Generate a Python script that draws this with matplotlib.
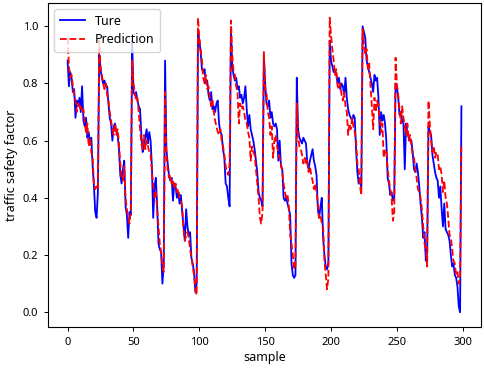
import matplotlib
matplotlib.use("Agg")
import matplotlib.pyplot as plt

plt.rcParams['font.family'] = ['Noto Sans', 'DejaVu Sans']

# true values, one row per sawtooth cycle (first cycle is 24 samples, last is 1)
true_vals = [
    0.88, 0.79, 0.84, 0.82, 0.77, 0.78, 0.68, 0.74, 0.72, 0.75, 0.70, 0.79, 0.67, 0.65, 0.68, 0.61, 0.63, 0.59, 0.61, 0.51, 0.44, 0.35, 0.33, 0.42,
    0.90, 0.85, 0.82, 0.80, 0.81, 0.79, 0.79, 0.73, 0.68, 0.66, 0.60, 0.65, 0.66, 0.63, 0.62, 0.57, 0.48, 0.45, 0.50, 0.53, 0.37, 0.34, 0.26, 0.35, 0.34,
    0.95, 0.77, 0.76, 0.77, 0.74, 0.72, 0.71, 0.62, 0.56, 0.58, 0.61, 0.64, 0.59, 0.63, 0.60, 0.51, 0.33, 0.44, 0.47, 0.37, 0.24, 0.22, 0.21, 0.10, 0.17,
    0.88, 0.57, 0.52, 0.48, 0.46, 0.47, 0.39, 0.45, 0.44, 0.40, 0.42, 0.38, 0.41, 0.35, 0.30, 0.25, 0.36, 0.30, 0.27, 0.28, 0.19, 0.17, 0.14, 0.07, 0.10,
    0.98, 0.95, 0.91, 0.85, 0.84, 0.85, 0.80, 0.81, 0.76, 0.74, 0.77, 0.71, 0.72, 0.70, 0.73, 0.74, 0.66, 0.63, 0.62, 0.57, 0.54, 0.45, 0.44, 0.40, 0.37,
    0.99, 0.86, 0.83, 0.81, 0.82, 0.78, 0.79, 0.75, 0.76, 0.73, 0.75, 0.79, 0.71, 0.65, 0.69, 0.64, 0.62, 0.60, 0.57, 0.53, 0.49, 0.42, 0.40, 0.39, 0.37,
    0.90, 0.80, 0.73, 0.72, 0.74, 0.68, 0.70, 0.66, 0.65, 0.66, 0.64, 0.53, 0.60, 0.51, 0.50, 0.40, 0.39, 0.40, 0.38, 0.36, 0.34, 0.17, 0.13, 0.12, 0.13,
    0.82, 0.64, 0.61, 0.60, 0.59, 0.61, 0.60, 0.59, 0.52, 0.50, 0.53, 0.55, 0.57, 0.53, 0.51, 0.48, 0.36, 0.33, 0.37, 0.40, 0.26, 0.20, 0.16, 0.15, 0.17,
    0.95, 0.88, 0.86, 0.84, 0.84, 0.83, 0.80, 0.82, 0.78, 0.80, 0.79, 0.76, 0.82, 0.75, 0.71, 0.69, 0.68, 0.67, 0.69, 0.68, 0.57, 0.49, 0.45, 0.47, 0.44,
    1.00, 0.98, 0.96, 0.88, 0.86, 0.84, 0.82, 0.80, 0.77, 0.83, 0.81, 0.82, 0.75, 0.62, 0.70, 0.67, 0.69, 0.66, 0.60, 0.47, 0.45, 0.41, 0.42, 0.39, 0.40,
    0.80, 0.79, 0.75, 0.69, 0.70, 0.67, 0.66, 0.50, 0.66, 0.63, 0.61, 0.60, 0.60, 0.56, 0.50, 0.49, 0.52, 0.49, 0.44, 0.38, 0.33, 0.26, 0.28, 0.18, 0.21,
    0.65, 0.63, 0.62, 0.55, 0.52, 0.49, 0.47, 0.46, 0.40, 0.44, 0.36, 0.30, 0.38, 0.29, 0.28, 0.27, 0.25, 0.20, 0.16, 0.17, 0.13, 0.12, 0.09, 0.02, 0.00,
    0.72,
]

pred_vals = [
    0.96, 0.86, 0.82, 0.83, 0.79, 0.76, 0.74, 0.70, 0.73, 0.71, 0.72, 0.70, 0.71, 0.66, 0.63, 0.66, 0.58, 0.61, 0.56, 0.54, 0.45, 0.43, 0.44, 0.43,
    0.95, 0.86, 0.83, 0.80, 0.78, 0.80, 0.76, 0.74, 0.70, 0.67, 0.64, 0.62, 0.66, 0.62, 0.64, 0.59, 0.52, 0.47, 0.46, 0.51, 0.40, 0.36, 0.33, 0.31, 0.36,
    0.88, 0.80, 0.77, 0.74, 0.75, 0.70, 0.64, 0.59, 0.57, 0.62, 0.57, 0.60, 0.58, 0.56, 0.55, 0.49, 0.45, 0.40, 0.42, 0.36, 0.30, 0.24, 0.21, 0.16, 0.14,
    0.77, 0.55, 0.50, 0.47, 0.48, 0.45, 0.46, 0.43, 0.45, 0.42, 0.43, 0.40, 0.39, 0.37, 0.29, 0.25, 0.27, 0.28, 0.26, 0.22, 0.19, 0.16, 0.13, 0.08, 0.06,
    1.03, 0.96, 0.92, 0.88, 0.82, 0.80, 0.83, 0.78, 0.79, 0.75, 0.72, 0.74, 0.70, 0.67, 0.65, 0.63, 0.62, 0.64, 0.60, 0.58, 0.55, 0.51, 0.49, 0.48, 0.52,
    1.02, 0.90, 0.84, 0.83, 0.79, 0.77, 0.66, 0.73, 0.71, 0.72, 0.70, 0.67, 0.66, 0.63, 0.61, 0.53, 0.58, 0.56, 0.55, 0.50, 0.45, 0.40, 0.33, 0.31, 0.35,
    0.91, 0.78, 0.77, 0.70, 0.68, 0.62, 0.65, 0.54, 0.60, 0.62, 0.58, 0.56, 0.54, 0.52, 0.49, 0.45, 0.42, 0.40, 0.41, 0.37, 0.27, 0.24, 0.20, 0.15, 0.16,
    0.73, 0.62, 0.58, 0.57, 0.55, 0.52, 0.54, 0.52, 0.53, 0.49, 0.51, 0.48, 0.46, 0.43, 0.45, 0.42, 0.38, 0.33, 0.34, 0.31, 0.30, 0.18, 0.13, 0.08, 0.12,
    1.03, 0.97, 0.92, 0.88, 0.83, 0.85, 0.79, 0.78, 0.80, 0.76, 0.74, 0.77, 0.72, 0.70, 0.62, 0.66, 0.64, 0.68, 0.65, 0.63, 0.60, 0.52, 0.50, 0.44, 0.41,
    0.99, 0.94, 0.90, 0.92, 0.85, 0.87, 0.79, 0.72, 0.64, 0.75, 0.70, 0.74, 0.72, 0.68, 0.63, 0.66, 0.54, 0.57, 0.56, 0.50, 0.46, 0.43, 0.40, 0.32, 0.35,
    0.89, 0.80, 0.76, 0.71, 0.66, 0.72, 0.68, 0.65, 0.62, 0.66, 0.60, 0.62, 0.58, 0.55, 0.54, 0.50, 0.47, 0.43, 0.42, 0.40, 0.36, 0.30, 0.24, 0.22, 0.16,
    0.74, 0.66, 0.60, 0.56, 0.58, 0.54, 0.56, 0.55, 0.50, 0.51, 0.48, 0.42, 0.46, 0.40, 0.38, 0.33, 0.27, 0.26, 0.22, 0.18, 0.17, 0.13, 0.14, 0.10, 0.12,
    0.58,
]

samples = list(range(len(true_vals)))

fig = plt.figure(figsize=(4.84, 3.69), dpi=100)
ax = fig.add_axes([0.099, 0.114, 0.895, 0.878])

ax.plot(samples, true_vals, color='b', linewidth=1.3, label='Ture')
ax.plot(samples, pred_vals, color='r', linestyle='--', linewidth=1.3, label='Prediction')

ax.set_xlabel('sample', fontsize=9, labelpad=2)
ax.set_ylabel('traffic safety factor', fontsize=9, labelpad=3)
ax.tick_params(labelsize=8, length=3.2, width=0.7, pad=4)
for sp in ax.spines.values():
    sp.set_linewidth(0.8)

ax.legend(loc='upper left', fontsize=9, handlelength=2.0, borderpad=0.45, labelspacing=0.45)

fig.savefig('out.png', dpi=100)
